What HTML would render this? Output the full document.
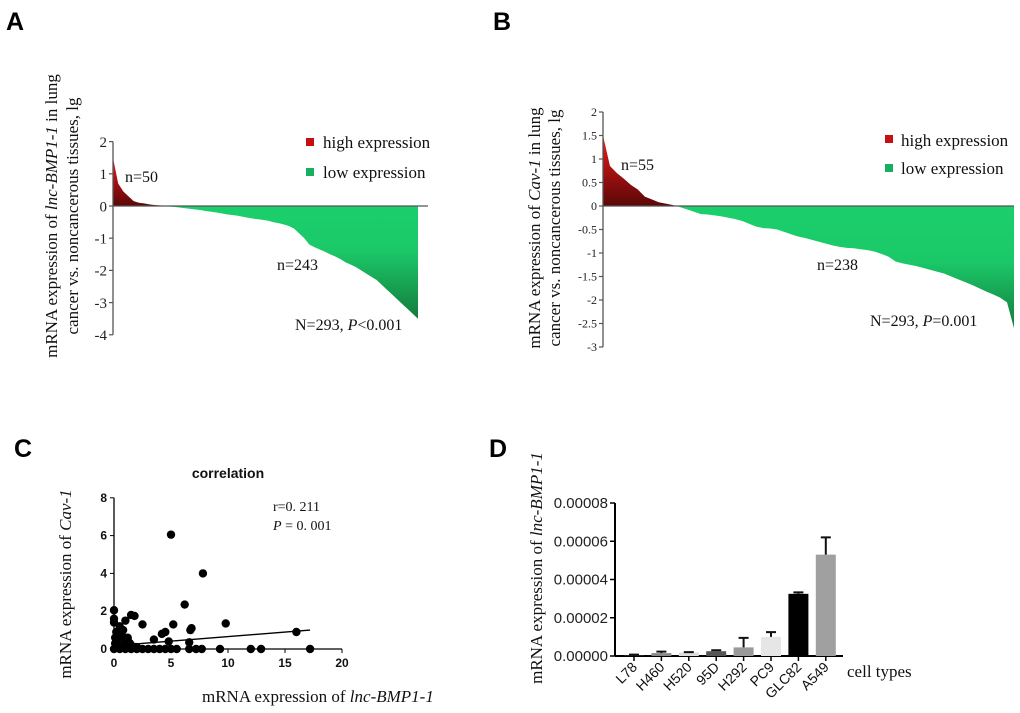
<!DOCTYPE html>
<html><head><meta charset="utf-8"><style>
html,body{margin:0;padding:0;background:#fff;}
svg{display:block;}
.serif{font-family:"Liberation Serif",serif;}
.sans{font-family:"Liberation Sans",sans-serif;}
</style></head><body>
<svg id="fig" width="1020" height="713" viewBox="0 0 1020 713" xmlns="http://www.w3.org/2000/svg">
<defs>
<linearGradient id="redG" x1="0" y1="0" x2="0" y2="1"><stop offset="0" stop-color="#f01818"/><stop offset="1" stop-color="#5a0808"/></linearGradient>
<linearGradient id="greenAG" gradientUnits="userSpaceOnUse" x1="0" y1="206" x2="0" y2="320"><stop offset="0" stop-color="#1bcf6c"/><stop offset="0.4" stop-color="#1bc868"/><stop offset="1" stop-color="#137a3c"/></linearGradient>
<linearGradient id="greenBG" gradientUnits="userSpaceOnUse" x1="0" y1="206" x2="0" y2="330"><stop offset="0" stop-color="#1bcf6c"/><stop offset="0.45" stop-color="#1bc868"/><stop offset="1" stop-color="#137a3c"/></linearGradient>
</defs>
<text x="6" y="30" class="sans" font-size="25" font-weight="bold">A</text>
<text x="493" y="30" class="sans" font-size="25" font-weight="bold">B</text>
<text x="14" y="457" class="sans" font-size="25" font-weight="bold">C</text>
<text x="489" y="457" class="sans" font-size="25" font-weight="bold">D</text>
<g id="pa"></g>
<g id="pb"></g>
<g id="pc"></g>
<g id="pd"></g>
</svg>
<script>
const aValues=[1.5,0.7,0.45,0.3,0.15,0.1,0.08,0.05,0.03,0.02,0.01,-0.02,-0.03,-0.05,-0.07,-0.09,-0.11,-0.13,-0.16,-0.18,-0.2,-0.23,-0.26,-0.28,-0.3,-0.33,-0.36,-0.39,-0.41,-0.43,-0.46,-0.5,-0.53,-0.57,-0.62,-0.7,-0.85,-1.0,-1.2,-1.28,-1.35,-1.42,-1.5,-1.57,-1.65,-1.75,-1.82,-1.9,-2.0,-2.1,-2.2,-2.3,-2.45,-2.6,-2.75,-2.9,-3.05,-3.2,-3.35,-3.5];
const aTicks=[2,1,0,-1,-2,-3,-4];
const bValues=[1.5,0.85,0.7,0.58,0.45,0.35,0.2,0.14,0.08,0.05,0.02,-0.02,-0.07,-0.12,-0.17,-0.18,-0.2,-0.22,-0.25,-0.28,-0.32,-0.38,-0.44,-0.47,-0.48,-0.5,-0.55,-0.6,-0.65,-0.68,-0.72,-0.76,-0.8,-0.84,-0.87,-0.89,-0.9,-0.92,-0.94,-0.97,-1.02,-1.08,-1.18,-1.22,-1.25,-1.28,-1.32,-1.36,-1.4,-1.44,-1.5,-1.56,-1.62,-1.68,-1.75,-1.82,-1.88,-1.95,-2.05,-2.6];
const bTicks=[2,1.5,1,0.5,0,-0.5,-1,-1.5,-2,-2.5,-3];
const cX=[0,0,0,0.2,0.5,0.8,1.0,1.2,1.5,1.8,2.5,3.5,4.2,4.5,5,5.2,6.2,6.7,6.8,7.8,9.8,16,4.8,6.6,0.3,0.6,1.0,1.4,0.1,0.4,0.9,1.6,2.0,0,0.5,1,1.5,2,2.5,3,3.5,4,4.5,5,5.5,6.6,7.2,7.7,9.3,12,12.9,17.2,0.2,0.7,1.2,0.3,0.1,1.1,1.9];
const cY=[2.05,1.6,1.4,0.5,1.2,1.0,1.5,0.6,1.8,1.75,1.3,0.5,0.8,0.9,6.05,1.3,2.35,1.0,1.1,4.0,1.35,0.9,0.4,0.35,0.8,0.6,0.4,0.3,0.3,0.2,0.2,0.15,0.1,0,0,0,0,0,0,0,0,0,0,0,0,0,0,0,0,0,0,0,0.9,0.7,0.5,0.1,0.6,0.25,0.1];
const cFit=[[1.5,0.25],[17.2,1.0]];
const cXTicks=[0,5,10,15,20];
const cYTicks=[0,2,4,6,8];
const dCats=["L78","H460","H520","95D","H292","PC9","GLC82","A549"];
const dVals=[0.05,0.15,0.18,0.25,0.45,1.0,3.25,5.3];
const dErr=[0.02,0.08,0.02,0.05,0.5,0.25,0.08,0.9];
const dColors=["#222","#888","#dcdcdc","#555","#999","#e6e6e6","#000","#a0a0a0"];
const dTicks=["0.00000","0.00002","0.00004","0.00006","0.00008"];
const NS="http://www.w3.org/2000/svg";
function mk(p,t,a,txt){const e=document.createElementNS(NS,t);for(const k in a)e.setAttribute(k,a[k]);if(txt!==undefined)e.textContent=txt;p.appendChild(e);return e;}

function waterfall(g,vals,ticks,x0,x1,y0,ppu,gg,tickFs,lineEnd){
  const ys=v=>y0-v*ppu;
  const w=(x1-x0)/(vals.length-1);
  const firstNeg=vals.findIndex(v=>v<0);
  const xz=x0+(firstNeg-1)*w+w*vals[firstNeg-1]/(vals[firstNeg-1]-vals[firstNeg]);
  let red="M"+x0+" "+y0;
  vals.forEach((v,i)=>{if(v>=0)red+=" L"+(x0+i*w)+" "+ys(v);});
  red+=" L"+xz+" "+y0+" Z";
  let grn="M"+xz+" "+y0;
  vals.forEach((v,i)=>{if(v<0)grn+=" L"+(x0+i*w)+" "+ys(v);});
  grn+=" L"+x1+" "+y0+" Z";
  const r=mk(g,"path",{d:red,fill:"url(#redG)"});
  
  
  const gr=mk(g,"path",{d:grn,fill:gg});
  
  
  const ax=mk(g,"line",{x1:x0,y1:ys(ticks[0]),x2:x0,y2:ys(ticks[ticks.length-1]),stroke:"#555","stroke-width":1.3});
  
  
  const zl=mk(g,"line",{x1:x0,y1:y0,x2:lineEnd,y2:y0,stroke:"#555","stroke-width":1.3});
  
  
  ticks.forEach(t=>{
    mk(g,"line",{x1:x0-4,y1:ys(t),x2:x0,y2:ys(t),stroke:"#555","stroke-width":1.2});
    const tl=mk(g,"text",{x:x0-6,y:ys(t)+tickFs*0.35,"text-anchor":"end","font-size":tickFs,class:"serif",fill:"#222"},String(t));
    
    
  });
}
const pa=document.getElementById("pa");
waterfall(pa,aValues,aTicks,113,418,206,32.2,"url(#greenAG)",15,428);
const pb=document.getElementById("pb");
waterfall(pb,bValues,bTicks,603,1014,206,47,"url(#greenBG)",12,1014);

function txt(g,x,y,s,fs,name,extra){const e=mk(g,"text",Object.assign({x:x,y:y,"font-size":fs,class:"serif",fill:"#111"},extra||{}));e.innerHTML=s;return e;}
txt(pa,0,0,'mRNA expression of <tspan font-style="italic">lnc-BMP1-1</tspan> in lung',17,'y-axis-title',{transform:"translate(57,216) rotate(-90)","text-anchor":"middle"});
txt(pa,0,0,'cancer vs. noncancerous tissues, lg',17,'y-axis-title-line2',{transform:"translate(78,216) rotate(-90)","text-anchor":"middle"});
let s=mk(pa,"rect",{x:306,y:138,width:8,height:8,fill:"#c41010"});
s=mk(pa,"rect",{x:306,y:168,width:8,height:8,fill:"#18b060"});
txt(pa,323,148,'high expression',17,'legend-entry-high');
txt(pa,323,178,'low expression',17,'legend-entry-low');
txt(pa,125,182,'n=50',16,'n-high-label');
txt(pa,277,270,'n=243',16,'n-low-label');
txt(pa,295,330,'N=293, <tspan font-style="italic">P</tspan>&lt;0.001',16,'stats-label');
txt(pb,0,0,'mRNA expression of <tspan font-style="italic">Cav-1</tspan> in lung',17,'y-axis-title',{transform:"translate(540,228) rotate(-90)","text-anchor":"middle"});
txt(pb,0,0,'cancer vs. noncancerous tissues, lg',17,'y-axis-title-line2',{transform:"translate(560,228) rotate(-90)","text-anchor":"middle"});
s=mk(pb,"rect",{x:885,y:135,width:8,height:8,fill:"#c41010"});
s=mk(pb,"rect",{x:885,y:164,width:8,height:8,fill:"#18b060"});
txt(pb,901,146,'high expression',17,'legend-entry-high');
txt(pb,901,174,'low expression',17,'legend-entry-low');
txt(pb,621,170,'n=55',16,'n-high-label');
txt(pb,817,270,'n=238',16,'n-low-label');
txt(pb,870,326,'N=293, <tspan font-style="italic">P</tspan>=0.001',16,'stats-label');

const pc=document.getElementById("pc");
const cx=v=>114+v*11.4, cy=v=>649-v*18.9;
txt(pc,228,478,'correlation',14,'chart-title',{class:"sans","font-weight":"bold","text-anchor":"middle"});
let l=mk(pc,"line",{x1:cx(0),y1:cy(0),x2:cx(0),y2:cy(8),stroke:"#000","stroke-width":1.3});
l=mk(pc,"line",{x1:cx(0),y1:cy(0),x2:cx(20),y2:cy(0),stroke:"#000","stroke-width":1.3});
cYTicks.forEach(t=>{mk(pc,"line",{x1:cx(0)-4,y1:cy(t),x2:cx(0),y2:cy(t),stroke:"#000"});
 txt(pc,cx(0)-7,cy(t)+4,String(t),12,'y-tick-label',{class:"sans","font-weight":"bold","text-anchor":"end"});});
cXTicks.forEach(t=>{mk(pc,"line",{x1:cx(t),y1:cy(0),x2:cx(t),y2:cy(0)+4,stroke:"#000"});
 txt(pc,cx(t),cy(0)+18,String(t),12,'x-tick-label',{class:"sans","font-weight":"bold","text-anchor":"middle"});});
cX.forEach((x,i)=>{const d=mk(pc,"circle",{cx:cx(x),cy:cy(cY[i]),r:4.2,fill:"#000"});
 
 });
l=mk(pc,"line",{x1:cx(cFit[0][0]),y1:cy(cFit[0][1]),x2:cx(cFit[1][0]),y2:cy(cFit[1][1]),stroke:"#000","stroke-width":1.4});
txt(pc,273,511,'r=0. 211',14,'r-value');
txt(pc,273,530,'<tspan font-style="italic">P</tspan> = 0. 001',14,'p-value');
txt(pc,0,0,'mRNA expression of <tspan font-style="italic">Cav-1</tspan>',17,'y-axis-title',{transform:"translate(71,584) rotate(-90)","text-anchor":"middle"});
txt(pc,202,702,'mRNA expression of <tspan font-style="italic">lnc-BMP1-1</tspan>',17,'x-axis-title');

const pd=document.getElementById("pd");
const dy=v=>656-v*19.125;
const dx0=615, bw=27.4;
l=mk(pd,"line",{x1:dx0,y1:dy(0),x2:dx0,y2:dy(8),stroke:"#000","stroke-width":2});
l=mk(pd,"line",{x1:dx0,y1:dy(0),x2:843,y2:dy(0),stroke:"#000","stroke-width":2});
dTicks.forEach((t,i)=>{const v=i*2;mk(pd,"line",{x1:dx0-5,y1:dy(v),x2:dx0,y2:dy(v),stroke:"#000","stroke-width":1.5});
 txt(pd,dx0-7,dy(v)+5,t,15,'y-tick-label',{class:"sans","text-anchor":"end",fill:"#222"});});
dCats.forEach((c,i)=>{const cxm=634+i*bw;
 const b=mk(pd,"rect",{x:cxm-10,y:dy(dVals[i]),width:20,height:dy(0)-dy(dVals[i]),fill:dColors[i]});
 
 
 const top=dy(dVals[i]+dErr[i]);
 const eb=mk(pd,"path",{d:"M"+cxm+" "+dy(dVals[i])+" V"+top+" M"+(cxm-5)+" "+top+" H"+(cxm+5),stroke:"#111","stroke-width":2,fill:"none"});
 
 
 mk(pd,"line",{x1:cxm,y1:dy(0),x2:cxm,y2:dy(0)+5,stroke:"#000","stroke-width":1.5});
 txt(pd,0,0,c,14,'x-tick-label',{class:"sans","text-anchor":"end",transform:"translate("+(cxm+4)+","+(dy(0)+12)+") rotate(-45)"});
});
txt(pd,847,677,'cell types',17,'x-axis-title');
txt(pd,0,0,'mRNA expression of <tspan font-style="italic">lnc-BMP1-1</tspan>',17,'y-axis-title',{transform:"translate(542,568) rotate(-90)","text-anchor":"middle"});
</script>
</body></html>
